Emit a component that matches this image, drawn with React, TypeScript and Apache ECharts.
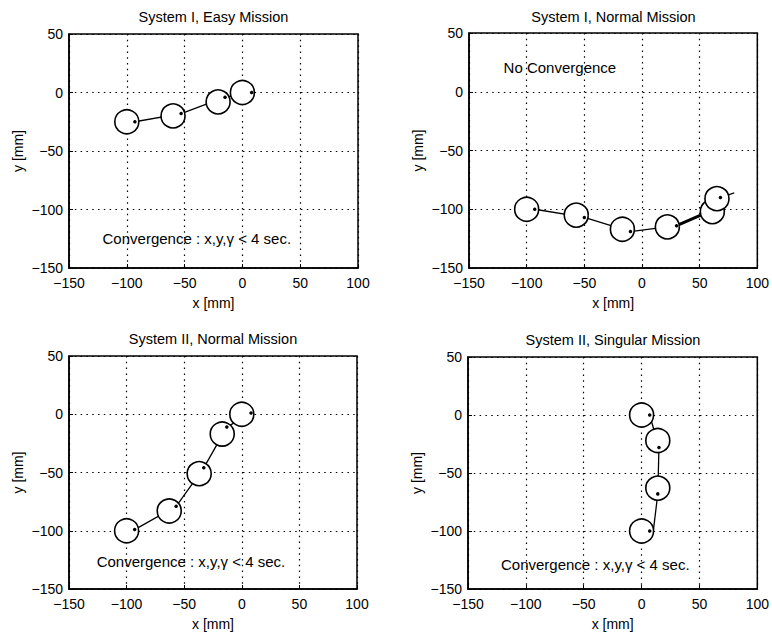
import React, { useEffect, useRef } from "react";
import * as echarts from "echarts";

// ---- data ----
const panelTitles = [
  "System I, Easy Mission",
  "System I, Normal Mission",
  "System II, Normal Mission",
  "System II, Singular Mission",
];

// Panel 1: System I, Easy Mission
const p1CircleX = [-100, -60, -21, 0];
const p1CircleY = [-25, -20, -8, 0];
const p1DotX = [-93, -53, -15, 8];
const p1DotY = [-25, -18, -4, 0];
const p1PathX = [-93, -53, -15, 8];
const p1PathY = [-25, -18, -4, 0];

// Panel 2: System I, Normal Mission
const p2CircleX = [-100, -57, -17, 22, 61, 65];
const p2CircleY = [-100, -105, -117, -115, -102, -91];
const p2DotX = [-93, -50, -10, 30, 68];
const p2DotY = [-100, -107, -119, -114, -90];
const p2PathX = [-93, -50, -10, 30, 58, 68, 80];
const p2PathY = [-100, -107, -119, -114, -102, -90, -86];
const p2ThickX = [30, 58];
const p2ThickY = [-114, -102];

// Panel 3: System II, Normal Mission
const p3CircleX = [-100, -63, -37, -17, 0];
const p3CircleY = [-100, -83, -51, -17, 0];
const p3DotX = [-93, -57, -33, -13, 8];
const p3DotY = [-99, -79, -46, -11, 1];
const p3PathX = [-93, -57, -33, -13, 8];
const p3PathY = [-99, -79, -46, -11, 1];

// Panel 4: System II, Singular Mission
const p4CircleX = [0, 14, 14, 0];
const p4CircleY = [0, -22, -63, -100];
const p4DotX = [7, 15, 14, 7];
const p4DotY = [0, -28, -68, -100];
const p4PathX = [7, 15, 14, 10];
const p4PathY = [0, -28, -68, -101];

const panelNotes = [
  "Convergence : x,y,\u03b3 < 4 sec.",
  "No Convergence",
  "Convergence : x,y,\u03b3 < 4 sec.",
  "Convergence : x,y,\u03b3 < 4 sec.",
];
const noteX = [-121, -120, -126, -121.5];
const noteY = [-124.5, 20.5, -126.6, -128.5];

const xMin = -150, xMax = 100, yMin = -150, yMax = 50, step = 50;

const zip = (xs: number[], ys: number[]) => xs.map((x, i) => [x, ys[i]]);

const panels = [
  { cx: p1CircleX, cy: p1CircleY, dx: p1DotX, dy: p1DotY, px: p1PathX, py: p1PathY },
  { cx: p2CircleX, cy: p2CircleY, dx: p2DotX, dy: p2DotY, px: p2PathX, py: p2PathY, tx: p2ThickX, ty: p2ThickY },
  { cx: p3CircleX, cy: p3CircleY, dx: p3DotX, dy: p3DotY, px: p3PathX, py: p3PathY },
  { cx: p4CircleX, cy: p4CircleY, dx: p4DotX, dy: p4DotY, px: p4PathX, py: p4PathY },
];

const FONT = "'Liberation Sans', Arial, Helvetica, sans-serif";

const gridBoxes = [
  { left: 69, top: 34, width: 289, height: 234 },
  { left: 469, top: 33, width: 289, height: 235 },
  { left: 69, top: 356, width: 288, height: 233 },
  { left: 468, top: 357, width: 290, height: 233 },
];
const titleTops = [9, 9, 331, 332];

const fmt = (v: number) => (v < 0 ? "\u2212" + Math.abs(v) : String(v));

export default function App() {
  const ref = useRef<HTMLDivElement>(null);
  useEffect(() => {
    if (!ref.current) return;
    const chart = echarts.init(ref.current, null, { renderer: "svg" });
    const dotted = { color: "#000", width: 1.2, type: [1.5, 4.3] as any };
    const series: any[] = [];
    panels.forEach((p: any, i) => {
      series.push({
        type: "line",
        xAxisIndex: i,
        yAxisIndex: i,
        data: zip(p.px, p.py),
        showSymbol: false,
        symbol: "none",
        lineStyle: { color: "#000", width: 1.3, opacity: 1 },
        z: 2,
      });
      if (p.tx) {
        series.push({
          type: "line",
          xAxisIndex: i,
          yAxisIndex: i,
          data: zip(p.tx, p.ty),
          symbol: "none",
          lineStyle: { color: "#000", width: 3, opacity: 1 },
          z: 2,
        });
      }
      series.push({
        type: "scatter",
        xAxisIndex: i,
        yAxisIndex: i,
        data: zip(p.cx, p.cy),
        symbol: "circle",
        symbolSize: 24,
        itemStyle: { color: "#fff", borderColor: "#000", borderWidth: 1.6, opacity: 1 },
        z: 3,
      });
      series.push({
        type: "scatter",
        xAxisIndex: i,
        yAxisIndex: i,
        data: zip(p.dx, p.dy),
        symbol: "circle",
        symbolSize: 3.5,
        itemStyle: { color: "#000", opacity: 1 },
        z: 4,
      });
      series.push({
        type: "scatter",
        xAxisIndex: i,
        yAxisIndex: i,
        data: [[noteX[i], noteY[i]]],
        symbolSize: 0,
        silent: true,
        itemStyle: { opacity: 1 },
        label: {
          show: true,
          position: "right",
          distance: 0,
          formatter: panelNotes[i],
          color: "#000",
          fontSize: 15,
          fontFamily: FONT,
        },
        z: 5,
      });
    });

    chart.setOption({
      animation: false,
      backgroundColor: "#fff",
      textStyle: { fontFamily: FONT, color: "#000" },
      title: panelTitles.map((t, i) => ({
        text: t,
        left: gridBoxes[i].left + gridBoxes[i].width / 2,
        top: titleTops[i],
        textAlign: "center",
        padding: 0,
        textStyle: { fontSize: 14.5, fontWeight: "normal", color: "#000", fontFamily: FONT },
      })),
      grid: gridBoxes.map((g) => ({
        ...g,
        show: true,
        borderColor: "#000",
        borderWidth: 1.5,
        backgroundColor: "transparent",
        containLabel: false,
      })),
      xAxis: gridBoxes.map((_, i) => ({
        type: "value",
        gridIndex: i,
        min: xMin,
        max: xMax,
        interval: step,
        name: "x [mm]",
        nameLocation: "middle",
        nameGap: 28,
        nameTextStyle: { fontSize: 14, color: "#000", fontFamily: FONT },
        axisLine: { show: true, onZero: false, lineStyle: { color: "#000", width: 1.5 } },
        axisTick: { show: true, inside: true, length: 4, lineStyle: { color: "#000" } },
        axisLabel: { fontSize: 14, color: "#000", margin: 8, formatter: fmt, fontFamily: FONT },
        splitLine: { show: true, lineStyle: dotted },
      })),
      yAxis: gridBoxes.map((_, i) => ({
        type: "value",
        gridIndex: i,
        min: yMin,
        max: yMax,
        interval: step,
        name: "y [mm]",
        nameLocation: "middle",
        nameGap: 44,
        nameTextStyle: { fontSize: 14, color: "#000", fontFamily: FONT },
        axisLine: { show: true, onZero: false, lineStyle: { color: "#000", width: 1.5 } },
        axisTick: { show: true, inside: true, length: 4, lineStyle: { color: "#000" } },
        axisLabel: { fontSize: 14, color: "#000", margin: 6, formatter: fmt, fontFamily: FONT },
        splitLine: { show: true, lineStyle: dotted },
      })),
      series,
    });
    return () => chart.dispose();
  }, []);
  return (
    <div
      ref={ref}
      style={{ position: "fixed", left: 0, top: 0, width: 772, height: 632, background: "#fff" }}
    />
  );
}
